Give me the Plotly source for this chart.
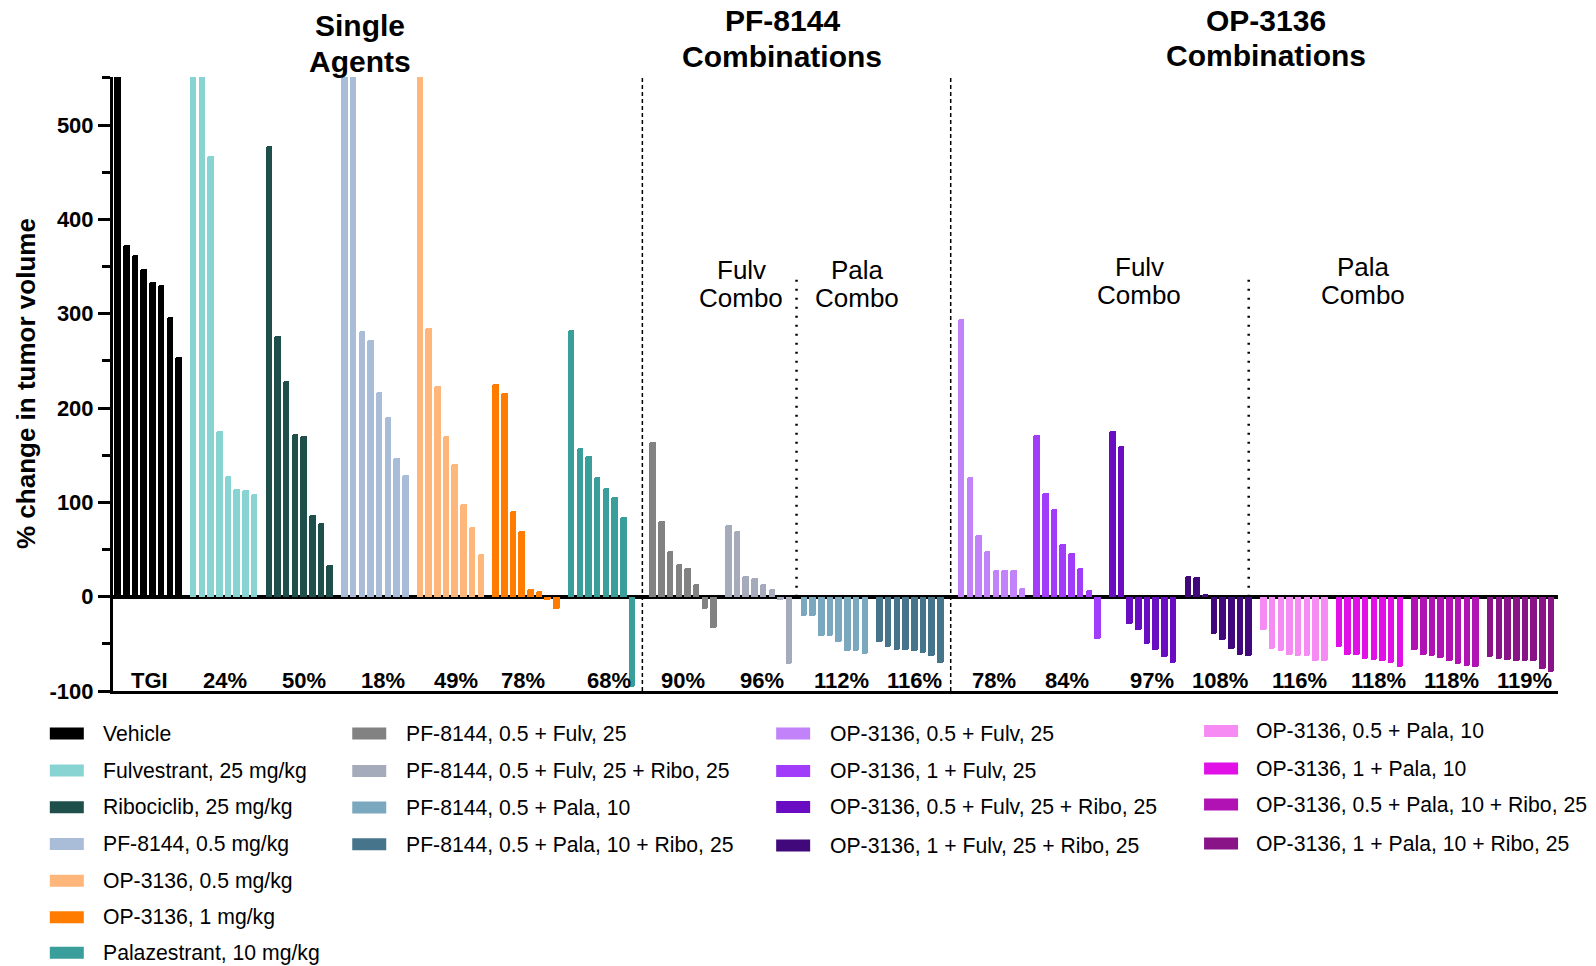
import plotly.graph_objects as go

# ---------------- data ----------------
group_names = [
    "Vehicle", "Fulvestrant, 25 mg/kg", "Ribociclib, 25 mg/kg", "PF-8144, 0.5 mg/kg",
    "OP-3136, 0.5 mg/kg", "OP-3136, 1 mg/kg", "Palazestrant, 10 mg/kg",
    "PF-8144, 0.5 + Fulv, 25", "PF-8144, 0.5 + Fulv, 25 + Ribo, 25",
    "PF-8144, 0.5 + Pala, 10", "PF-8144, 0.5 + Pala, 10 + Ribo, 25",
    "OP-3136, 0.5 + Fulv, 25", "OP-3136, 1 + Fulv, 25",
    "OP-3136, 0.5 + Fulv, 25 + Ribo, 25", "OP-3136, 1 + Fulv, 25 + Ribo, 25",
    "OP-3136, 0.5 + Pala, 10", "OP-3136, 1 + Pala, 10",
    "OP-3136, 0.5 + Pala, 10 + Ribo, 25", "OP-3136, 1 + Pala, 10 + Ribo, 25",
]
group_colors = [
    "#000000", "#88D4D2", "#1F4F4B", "#A9BCD8", "#FFB67A", "#FF7C00", "#3A9E9A",
    "#828282", "#A5ABBA", "#7AA8BF", "#45748B",
    "#C282FA", "#A23CFB", "#6A0CC2", "#40087A",
    "#F68BF3", "#E010E6", "#B012B3", "#891487",
]
tgi_labels = ["TGI", "24%", "50%", "18%", "49%", "78%", "68%",
              "90%", "96%", "112%", "116%",
              "78%", "84%", "97%", "108%", "116%", "118%", "118%", "119%"]

vehicle = [620, 373, 362, 347, 334, 331, 297, 254]
fulvestrant = [620, 600, 467, 176, 128, 114, 113, 109]
ribociclib = [478, 276, 229, 172, 170, 87, 78, 34]
pf8144 = [620, 600, 282, 272, 217, 191, 147, 129]
op3136_05 = [600, 285, 223, 170, 141, 98, 74, 45]
op3136_1 = [226, 216, 91, 70, 8, 6, -3, -13]
palazestrant = [283, 158, 149, 127, 115, 106, 85, -96]
pf_fulv = [164, 80, 48, 35, 30, 13, -13, -33]
pf_fulv_ribo = [76, 70, 22, 20, 13, 8, -4, -71]
pf_pala = [-21, -21, -42, -42, -48, -58, -58, -61]
pf_pala_ribo = [-48, -53, -56, -56, -58, -60, -63, -70]
op05_fulv = [294, 127, 65, 48, 28, 28, 28, 9]
op1_fulv = [171, 110, 93, 56, 46, 30, 7, -45]
op05_fulv_ribo = [176, 160, -29, -35, -50, -56, -64, -70]
op1_fulv_ribo = [22, 21, 3, -40, -46, -55, -62, -63]
op05_pala = [-35, -55, -58, -62, -63, -63, -68, -68]
op1_pala = [-53, -62, -62, -66, -67, -68, -70, -75]
op05_pala_ribo = [-57, -62, -63, -65, -68, -71, -74, -75]
op1_pala_ribo = [-64, -66, -67, -68, -68, -68, -77, -80]

group_values = [vehicle, fulvestrant, ribociclib, pf8144, op3136_05, op3136_1, palazestrant,
                pf_fulv, pf_fulv_ribo, pf_pala, pf_pala_ribo,
                op05_fulv, op1_fulv, op05_fulv_ribo, op1_fulv_ribo,
                op05_pala, op1_pala, op05_pala_ribo, op1_pala_ribo]

y_tick_vals = [-100, 0, 100, 200, 300, 400, 500]
y_tick_text = ["-100", "0", "100", "200", "300", "400", "500"]

# ---------------- layout helpers ----------------
W, H = 1596, 966
L, R, T, B = 112.7, 1558.0, 76.9, 690.8
UNIT = 8.7          # px per bar slot
X0PX = 117.3        # px of first bar
STRIDE = 8.69
SEP = 0.69
YMIN, YMAX = -100, 551
# small horizontal nudges (px) of the TGI labels relative to group centres
TGI_DX = [1.3, 1.2, 4.6, 8.4, 5.6, -2.6, 7.6, -0.4, 3, 7.2, 4.6,
          2.6, 0, 9.1, 1.5, 5.5, 9, 6.5, 4]


def gstart(k):
    return k * STRIDE + SEP * (k >= 7) + SEP * (k >= 11)


def pxx(p):
    return (p - L) / (R - L)


def pyy(p):
    return (B - p) / (B - T)


FONT = "Liberation Sans, Arial, sans-serif"

fig = go.Figure()
for k, (name, col, vals) in enumerate(zip(group_names, group_colors, group_values)):
    xs = [gstart(k) + i for i in range(len(vals))]
    fig.add_trace(go.Bar(x=xs, y=vals, name=name, width=0.75,
                         marker=dict(color=col, line=dict(width=0), cornerradius=2),
                         showlegend=False))

xlo = -(X0PX - L) / UNIT
xhi = xlo + (R - L) / UNIT

annotations = []
shapes = []

# TGI labels
for k, lab in enumerate(tgi_labels):
    c = gstart(k) + 3.5 + TGI_DX[k] / UNIT
    annotations.append(dict(x=c, y=pyy(680), xref="x", yref="paper", text=lab, showarrow=False,
                            font=dict(family=FONT, size=22, color="black", weight="bold"),
                            xanchor="center", yanchor="middle"))

# Section titles
for txt, xp, yp in [("Single", 360, 25.4), ("Agents", 360, 61),
                    ("PF-8144", 782, 20.4), ("Combinations", 782, 56),
                    ("OP-3136", 1266, 20.4), ("Combinations", 1266, 55)]:
    annotations.append(dict(x=pxx(xp), y=pyy(yp), xref="paper", yref="paper", text=txt,
                            showarrow=False, xanchor="center", yanchor="middle",
                            font=dict(family=FONT, size=30, color="black", weight="bold")))
for txt, xp, yp in [("Fulv", 741, 270), ("Combo", 741, 298), ("Pala", 857, 270), ("Combo", 857, 298),
                    ("Fulv", 1139, 267), ("Combo", 1139, 295), ("Pala", 1363, 267), ("Combo", 1363, 295)]:
    annotations.append(dict(x=pxx(xp), y=pyy(yp), xref="paper", yref="paper", text=txt,
                            showarrow=False, xanchor="center", yanchor="middle",
                            font=dict(family=FONT, size=26, color="black")))

# Y-axis title
annotations.append(dict(x=pxx(25.5), y=pyy(383), xref="paper", yref="paper",
                        text="% change in tumor volume", textangle=-90, showarrow=False,
                        xanchor="center", yanchor="middle",
                        font=dict(family=FONT, size=26, color="black", weight="bold")))

# Separators
sep_dash = [(gstart(6) + 7 + gstart(7)) / 2, (gstart(10) + 7 + gstart(11)) / 2]
for s in sep_dash:
    shapes.append(dict(type="line", xref="x", yref="paper", x0=s, x1=s, y0=0, y1=1,
                       line=dict(color="black", width=1.5, dash="4px,3px")))
sep_dot = [((gstart(8) + 7 + gstart(9)) / 2, 341), (gstart(14) + 7, 343)]
for s, top in sep_dot:
    shapes.append(dict(type="line", xref="x", yref="y", x0=s, x1=s, y0=0, y1=top,
                       line=dict(color="black", width=2.5, dash="2px,7px")))

# Manual legend
legend_cols = [
    (list(range(0, 7)), 49.5, 102, [733.3, 770.3, 807, 843.7, 880.5, 917, 952.5]),
    (list(range(7, 11)), 352, 405, [733.3, 770.7, 807.3, 844]),
    (list(range(11, 15)), 776, 829, [733.3, 770.7, 806.7, 845.3]),
    (list(range(15, 19)), 1204, 1255, [730.7, 768.3, 804.3, 843.3]),
]
for idxs, sx, tx, ys in legend_cols:
    for k, yc in zip(idxs, ys):
        shapes.append(dict(type="rect", xref="paper", yref="paper",
                           x0=pxx(sx), x1=pxx(sx + 34), y0=pyy(yc - 6), y1=pyy(yc + 6),
                           fillcolor=group_colors[k], line=dict(width=0)))
        annotations.append(dict(x=pxx(tx), y=pyy(yc), xref="paper", yref="paper",
                                text=group_names[k], showarrow=False, xanchor="left",
                                yanchor="middle", borderpad=0,
                                font=dict(family=FONT, size=21.2, color="black")))

fig.update_layout(
    width=W, height=H,
    margin=dict(l=L, r=W - R, t=T, b=H - B, pad=0),
    plot_bgcolor="white", paper_bgcolor="white",
    bargap=0, barmode="overlay",
    showlegend=False,
    annotations=annotations, shapes=shapes,
    xaxis=dict(range=[xlo, xhi], showgrid=False, zeroline=False, showticklabels=False,
               ticks="", showline=True, linecolor="black", linewidth=3, fixedrange=True),
    yaxis=dict(range=[YMIN, YMAX], showgrid=False, tickmode="array",
               tickvals=y_tick_vals, ticktext=y_tick_text,
               ticks="outside", ticklen=12, tickwidth=3, tickcolor="black",
               minor=dict(ticks="outside", ticklen=8, tickwidth=3, tickcolor="black",
                          tickmode="linear", dtick=50, tick0=50),
               showline=True, linecolor="black", linewidth=3,
               zeroline=True, zerolinecolor="black", zerolinewidth=4,
               layer="above traces", automargin=False,
               tickfont=dict(family=FONT, size=22, color="black", weight="bold")),
)

fig.write_html("out.html")
